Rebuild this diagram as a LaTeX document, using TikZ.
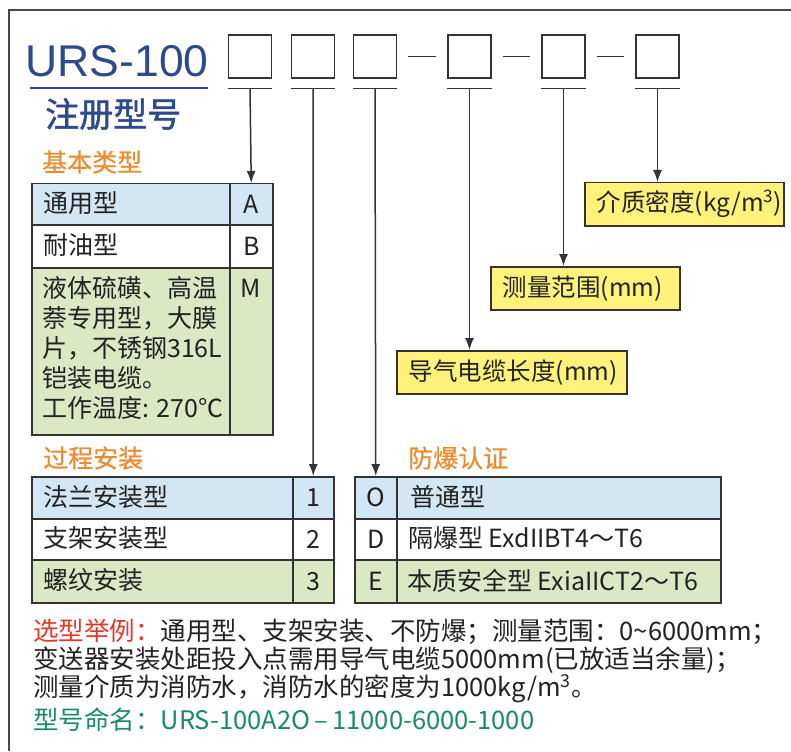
\documentclass[tikz,border=0pt]{standalone}
\usepackage{fontspec}
\setmainfont{Noto Sans CJK SC}
\newfontfamily\latinfont{Liberation Sans}
\newfontfamily\cjkbold{Noto Sans CJK SC}[FakeBold=1.5]
\newfontfamily\cjkmed{Noto Sans CJK SC}[FakeBold=0.6]
\usetikzlibrary{arrows.meta}
\definecolor{titleblue}{HTML}{2C4A8C}
\definecolor{headorange}{HTML}{EE8A2E}
\definecolor{exred}{HTML}{E2382C}
\definecolor{exgreen}{HTML}{1B8A6B}
\definecolor{lblue}{HTML}{D2E7F3}
\definecolor{lgreen}{HTML}{DCE7C3}
\definecolor{lyellow}{HTML}{FFF27A}
\definecolor{linec}{HTML}{333333}
\definecolor{textc}{HTML}{222222}
\definecolor{framec}{HTML}{4A4A4A}
\begin{document}
\begin{tikzpicture}[x=1pt,y=-1pt,
  txt/.style={inner sep=0pt, text=textc, font=\fontsize{25}{30}\selectfont},
  extxt/.style={inner sep=0pt, text=textc, font=\fontsize{25.5}{30}\selectfont, anchor=west},
  head/.style={inner sep=0pt, text=headorange, font=\cjkmed\fontsize{25}{30}\selectfont, anchor=west},
  cell/.style={draw=linec, line width=1.5pt, anchor=north west, inner sep=0pt, text=textc, font=\fontsize{25}{30}\selectfont},
  codebox/.style={draw=linec, line width=1.5pt, minimum width=43, minimum height=43, inner sep=0pt},
  ybox/.style={draw=linec, line width=1.5pt, fill=lyellow, anchor=north west, inner xsep=12pt, inner ysep=0pt, align=left, text=textc, font=\fontsize{24.5}{30}\selectfont},
  conn/.style={draw=linec, line width=1.5pt},
  arr/.style={conn, -{Latex[length=12pt,width=9pt]}}
]
\useasboundingbox (0,0) rectangle (791,751);
% frame
\coordinate (fbl) at (9,751);
\coordinate (ftl) at (9,10);
\coordinate (ftr) at (791,10);
\draw[framec, line width=2pt] (fbl) -- (ftl) -- (ftr);

% title
\node[inner sep=0pt, anchor=base west, text=titleblue, font=\latinfont\fontsize{44.5}{44}\selectfont] (title) at (25.5,77) {URS-100};
\coordinate (ul1) at (30,88);
\coordinate (ul2) at (208,88);
\draw[titleblue, line width=2pt] (ul1) -- (ul2);
\node[inner sep=0pt, anchor=west, text=titleblue, font=\cjkbold\fontsize{34}{34}\selectfont] (subtitle) at (45,114) {注册型号};

% code boxes
\node[codebox] (b1) at (250,56.5) {};
\node[codebox] (b2) at (313,56.5) {};
\node[codebox] (b3) at (375,56.5) {};
\node[codebox] (b4) at (469.5,56.5) {};
\node[codebox] (b5) at (563.5,56.5) {};
\node[codebox] (b6) at (657.5,56.5) {};
\draw[conn] ([xshift=11pt]b3.east) -- ([xshift=-11pt]b4.west);
\draw[conn] ([xshift=11pt]b4.east) -- ([xshift=-11pt]b5.west);
\draw[conn] ([xshift=11pt]b5.east) -- ([xshift=-11pt]b6.west);
\foreach \b in {b1,b2,b3,b4,b5,b6}{
  \draw[conn] ([yshift=-10pt]\b.south west) -- ([yshift=-10pt]\b.south east);
  \coordinate (u\b) at ([yshift=-10pt]\b.south);
}

% headings
\node[head] (h1) at (42,162) {基本类型};
\node[head] (h2) at (43,458) {过程安装};
\node[head] (h3) at (408,458) {防爆认证};

% table 1
\node[cell, fill=lblue, minimum width=198, minimum height=41] (t1r1) at (31,183) {};
\node[cell, fill=lblue, minimum width=43, minimum height=41] (t1A) at (229,183) {A};
\node[cell, fill=white, minimum width=198, minimum height=43] (t1r2) at (31,224) {};
\node[cell, fill=white, minimum width=43, minimum height=43] (t1B) at (229,224) {B};
\node[cell, fill=lgreen, minimum width=198, minimum height=167] (t1r3) at (31,267) {};
\node[cell, fill=lgreen, minimum width=43, minimum height=167] (t1M) at (229,267) {};
\node[txt, anchor=west] (t1r1t) at (43,203.5) {通用型};
\node[txt, anchor=west] (t1r2t) at (43,245.5) {耐油型};
\node[txt, anchor=north west, align=left] (t1r3t) at (42,276) {液体硫磺、高温\\萘专用型，大膜\\片，不锈钢316L\\铠装电缆。\\工作温度: 270℃};
\node[txt] (t1Mt) at (250.5,288) {M};

% table 2
\node[cell, fill=lblue, minimum width=261, minimum height=42] (t2r1) at (31,476) {};
\node[cell, fill=lblue, minimum width=41, minimum height=42] (t2c1) at (292,476) {1};
\node[cell, fill=white, minimum width=261, minimum height=41] (t2r2) at (31,518) {};
\node[cell, fill=white, minimum width=41, minimum height=41] (t2c2) at (292,518) {2};
\node[cell, fill=lgreen, minimum width=261, minimum height=43] (t2r3) at (31,559) {};
\node[cell, fill=lgreen, minimum width=41, minimum height=43] (t2c3) at (292,559) {3};
\node[txt, anchor=west] (t2r1t) at (43,497) {法兰安装型};
\node[txt, anchor=west] (t2r2t) at (43,538.5) {支架安装型};
\node[txt, anchor=west] (t2r3t) at (43,580.5) {螺纹安装};

% table 3
\node[cell, fill=lblue, minimum width=42, minimum height=42] (t3c1) at (354,476) {O};
\node[cell, fill=lblue, minimum width=324, minimum height=42] (t3r1) at (396,476) {};
\node[cell, fill=white, minimum width=42, minimum height=41] (t3c2) at (354,518) {D};
\node[cell, fill=white, minimum width=324, minimum height=41] (t3r2) at (396,518) {};
\node[cell, fill=lgreen, minimum width=42, minimum height=43] (t3c3) at (354,559) {E};
\node[cell, fill=lgreen, minimum width=324, minimum height=43] (t3r3) at (396,559) {};
\node[txt, anchor=west] (t3r1t) at (410,497) {普通型};
\node[txt, anchor=west] (t3r2t) at (408,538.5) {隔爆型 ExdIIBT4～T6};
\node[txt, anchor=west] (t3r3t) at (407,580.5) {本质安全型 ExiaIICT2～T6};

% yellow boxes
\node[ybox, minimum width=199, minimum height=43, text width=175pt] (y6) at (584,182) {介质密度(kg/m\textsuperscript{3})};
\node[ybox, minimum width=189, minimum height=43, text width=165pt] (y5) at (490,266) {测量范围(mm)};
\node[ybox, minimum width=230, minimum height=43, text width=206pt] (y4) at (396,350) {导气电缆长度(mm)};

% arrows
\draw[arr] (ub1) -- (t1A.north);
\draw[arr] (ub2) -- (t2c1.north);
\draw[arr] (ub3) -- (t3c1.north);
\draw[arr] (ub4) -- (ub4 |- y4.north);
\draw[arr] (ub5) -- (ub5 |- y5.north);
\draw[arr] (ub6) -- (ub6 |- y6.north);

% example text
\node[extxt] (ex1) at (33,632) {\textcolor{exred}{选型举例：}通用型、支架安装、不防爆；测量范围：0\textasciitilde 6000mm；};
\node[extxt] (ex2) at (33,660) {变送器安装处距投入点需用导气电缆5000mm(已放适当余量)；};
\node[extxt] (ex3) at (33,689) {测量介质为消防水，消防水的密度为1000kg/m\textsuperscript{3}。};
\node[extxt, text=exgreen] (ex4) at (33,720) {型号命名：URS-100A2O\,–\,11000-6000-1000};
\end{tikzpicture}
\end{document}
